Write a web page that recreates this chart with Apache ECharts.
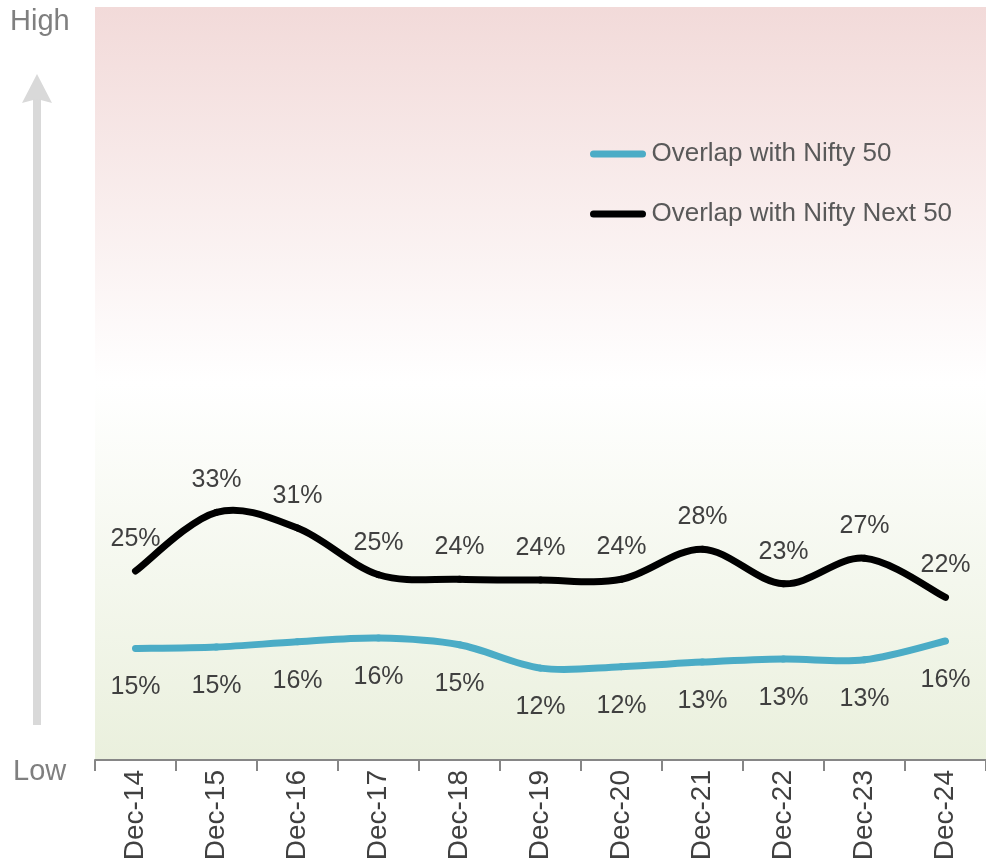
<!DOCTYPE html>
<html>
<head>
<meta charset="utf-8">
<script src="https://cdn.jsdelivr.net/npm/echarts@6/dist/echarts.min.js"></script>
<style>
html,body{margin:0;padding:0;background:#fff;}
#chart{width:986px;height:865px;}
</style>
</head>
<body>
<div id="chart"></div>
<script>
var categories = ['Dec-14','Dec-15','Dec-16','Dec-17','Dec-18','Dec-19','Dec-20','Dec-21','Dec-22','Dec-23','Dec-24'];
var overlapNifty50 = [14.8, 15.0, 15.7, 16.2, 15.3, 12.2, 12.4, 13.0, 13.4, 13.3, 15.8];
var overlapNiftyNext50 = [25.1, 32.9, 30.8, 24.6, 24.0, 23.9, 24.0, 28.0, 23.4, 26.8, 21.6];
var seriesNames = ['Overlap with Nifty 50', 'Overlap with Nifty Next 50'];
var seriesColors = ['#4bacc6', '#000000'];
var sideLabels = ['High', 'Low'];

var FONT = "'Liberation Sans', Arial, sans-serif";
var chart = echarts.init(document.getElementById('chart'));
function pct(p){ return Math.round(p.value) + '%'; }

// Smooth curve (Catmull-Rom style Bezier) drawn through the data points via the axes' scales
function curveSeries(values, color, name) {
  var n = values.length;
  return {
    type: 'custom',
    name: name,
    data: values.map(function (v, i) { return [i, v]; }),
    encode: { x: 0, y: 1 },
    silent: true,
    z: 3,
    renderItem: function (params, api) {
      var i = params.dataIndex;
      if (i >= n - 1) return null;
      function pt(k) {
        k = Math.max(0, Math.min(n - 1, k));
        return api.coord([k, values[k]]);
      }
      var p0 = pt(i - 1), p1 = pt(i), p2 = pt(i + 1), p3 = pt(i + 2);
      return {
        type: 'bezierCurve',
        shape: {
          x1: p1[0], y1: p1[1], x2: p2[0], y2: p2[1],
          cpx1: p1[0] + (p2[0] - p0[0]) / 6, cpy1: p1[1] + (p2[1] - p0[1]) / 6,
          cpx2: p2[0] - (p3[0] - p1[0]) / 6, cpy2: p2[1] - (p3[1] - p1[1]) / 6
        },
        style: { stroke: color, lineWidth: 7, fill: null, lineCap: 'round' }
      };
    }
  };
}

function labelSeries(values, color, name, pos, dist) {
  return {
    name: name, type: 'line', data: values,
    symbol: 'circle', symbolSize: 1, showSymbol: true,
    lineStyle: { color: color, width: 0, opacity: 0 },
    itemStyle: { color: color, opacity: 0 },
    z: 4,
    label: { show: true, position: pos, distance: dist, formatter: pct, fontSize: 25, color: '#404040', fontFamily: FONT, opacity: 1 }
  };
}

var capsule = 'path://M3.5,0 H52.5 A3.5,3.5 0 0 1 52.5,7 H3.5 A3.5,3.5 0 0 1 3.5,0 Z';

chart.setOption({
  animation: false,
  backgroundColor: '#ffffff',
  textStyle: { fontFamily: FONT },
  grid: {
    left: 95, right: -9, top: 7, bottom: 105,
    show: true, borderWidth: 0,
    backgroundColor: {
      type: 'linear', x: 0, y: 0, x2: 0, y2: 1,
      colorStops: [
        { offset: 0, color: '#f2dad9' },
        { offset: 0.5, color: '#ffffff' },
        { offset: 1, color: '#eaf0dd' }
      ]
    }
  },
  legend: {
    orient: 'vertical',
    left: 585, top: 136,
    itemWidth: 57, itemHeight: 7, itemGap: 34,
    textStyle: { fontSize: 26, color: '#595959', fontFamily: FONT },
    data: [
      { name: seriesNames[0], icon: capsule, itemStyle: { color: seriesColors[0], opacity: 1 } },
      { name: seriesNames[1], icon: capsule, itemStyle: { color: seriesColors[1], opacity: 1 } }
    ]
  },
  xAxis: {
    type: 'category',
    data: categories,
    boundaryGap: true,
    axisLine: { lineStyle: { color: '#868686', width: 2 } },
    axisTick: { show: true, length: 11, lineStyle: { color: '#868686', width: 2 } },
    axisLabel: { rotate: 90, fontSize: 28, color: '#404040', margin: 10, fontFamily: FONT, interval: 0, padding: [9, 0, 0, 0] },
    splitLine: { show: false }
  },
  yAxis: {
    type: 'value', min: 0, max: 100,
    show: false,
    splitLine: { show: false }
  },
  graphic: [
    { type: 'rect', shape: { x: 33, y: 96, width: 8, height: 629 }, style: { fill: '#d9d9d9' } },
    { type: 'polygon', shape: { points: [[37, 74], [52, 103], [37, 99], [22, 103]] }, style: { fill: '#d9d9d9' } },
    { type: 'text', left: 10, top: 7, style: { text: sideLabels[0], fontSize: 29, fill: '#7f7f7f', fontFamily: FONT } },
    { type: 'text', left: 13, top: 757, style: { text: sideLabels[1], fontSize: 29, fill: '#7f7f7f', fontFamily: FONT } }
  ],
  series: [
    labelSeries(overlapNifty50, seriesColors[0], seriesNames[0], 'bottom', 26),
    labelSeries(overlapNiftyNext50, seriesColors[1], seriesNames[1], 'top', 19),
    curveSeries(overlapNifty50, seriesColors[0], seriesNames[0] + ' curve'),
    curveSeries(overlapNiftyNext50, seriesColors[1], seriesNames[1] + ' curve')
  ]
});
</script>
</body>
</html>
